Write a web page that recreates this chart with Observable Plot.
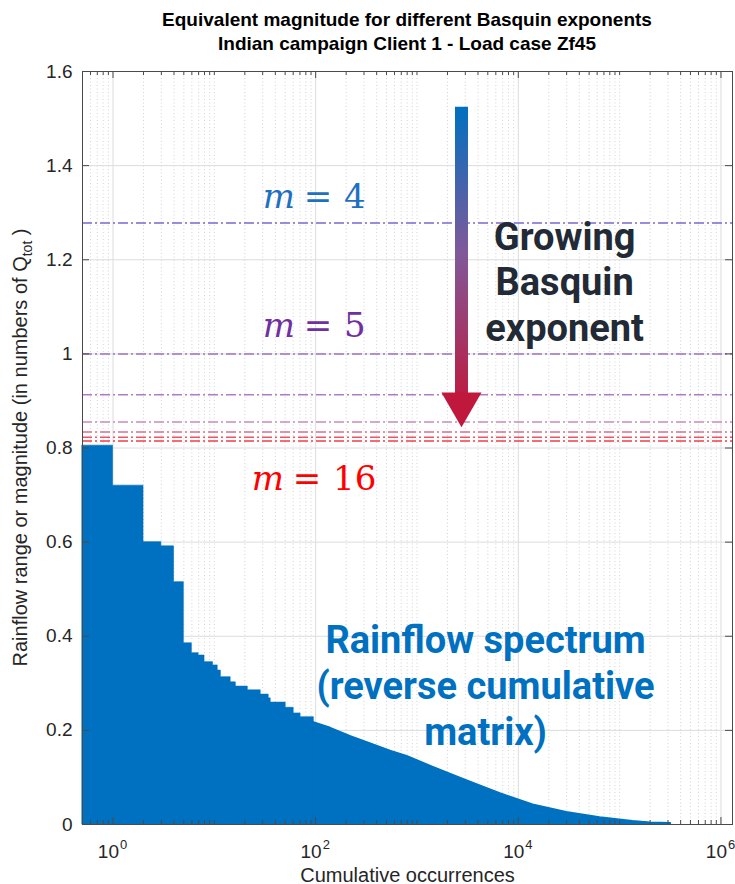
<!DOCTYPE html>
<html><head><meta charset="utf-8">
<script src="https://cdn.jsdelivr.net/npm/d3@7"></script>
<script src="https://cdn.jsdelivr.net/npm/@observablehq/plot@0.6"></script>
<style>
body{margin:0;background:#fff;font-family:"Liberation Sans",Arial,sans-serif;}
#title{width:735px;height:57px;box-sizing:border-box;padding:8px 3px 0 82px;text-align:center;font-weight:bold;font-size:19px;color:#000;line-height:24px;}
#chart svg{display:block;}
</style></head><body>
<div id="title"><div>Equivalent magnitude for different Basquin exponents</div><div>Indian campaign Client 1 - Load case Zf45</div></div>
<div id="chart"></div>
<script>
// Reverse cumulative rainflow spectrum (stair part): cumulative occurrences -> range
const stairOcc   = [0.5, 1, 2, 3, 4, 5, 6, 7, 8, 9.7, 10.8, 11.6, 14.5, 16.3, 21.4, 28.7, 34.4, 36, 50.6, 60.7, 71, 96];
const stairRange = [0.805, 0.72, 0.600, 0.591, 0.515, 0.385, 0.364, 0.359, 0.345, 0.338, 0.327, 0.313, 0.302, 0.293, 0.285, 0.276, 0.268, 0.259, 0.248, 0.236, 0.228, 0.217];
// Smooth tail of the spectrum
const tailOcc   = [96, 141, 223, 350, 556, 800, 1450, 3140, 6650, 14000, 30000, 64000, 135000, 200000, 320000];
const tailRange = [0.217, 0.205, 0.187, 0.172, 0.156, 0.145, 0.122, 0.093, 0.066, 0.042, 0.026, 0.015, 0.007, 0.004, 0.003];
// Equivalent magnitudes for Basquin exponents
const basquinM   = [4, 5, 6, 8, 10, 12, 16];
const equivMag   = [1.278, 1.0, 0.913, 0.855, 0.834, 0.823, 0.815];
const lineColors = ["#7a68d0", "#9a72c8", "#b07cc4", "#c98cbc", "#d8708c", "#e85468", "#f23c44"];
// Axis ticks
const yTicks = [0, 0.2, 0.4, 0.6, 0.8, 1, 1.2, 1.4, 1.6];
const yTickLabels = ["0", "0.2", "0.4", "0.6", "0.8", "1", "1.2", "1.4", "1.6"];
const xTicks = [1, 1e2, 1e4, 1e6];
const xTickExp = ["0", "2", "4", "6"];
// Annotations
const mLabels = [
  {x: 105.6, y: 1.311, m: "4", color: "#1f70c0"},
  {x: 105.6, y: 1.035, m: "5", color: "#7030a0"},
  {x: 82.2,  y: 0.710, m: "16", color: "#ff0000"}
];
const arrowSpec = {x: 2750, top: 1.524, base: 0.905, head: 0.8935};
const growingText = {x: 28650, y: 1.028, text: "Growing\nBasquin\nexponent"};
const rainflowText = {x: 4750, y: 0.168, text: "Rainflow spectrum\n(reverse cumulative\nmatrix)"};

const stairs = stairOcc.map((x, i) => ({x, y: stairRange[i]}));
const tail = tailOcc.map((x, i) => ({x, y: tailRange[i]}));
const basquin = basquinM.map((m, i) => ({m, mag: equivMag[i], color: lineColors[i]}));
const xMinor = d3.range(-1, 6).flatMap(k => d3.range(1, 10).map(d => d * 10 ** k))
  .filter(v => v > 0.5 && v < 1.3e6 && !xTicks.includes(v));

const W = 735, H = 827, mt = 14, mb = 60, ml = 82, mr = 3;
const ph = H - mt - mb, pw = W - ml - mr;
const axisColor = "#4a4a4a", txtColor = "#262626", blue = "#0070c0";

const plot = Plot.plot({
  width: W, height: H, marginTop: mt, marginBottom: mb, marginLeft: ml, marginRight: mr,
  style: {fontFamily: "Liberation Sans, Arial, sans-serif", background: "#fff", overflow: "visible", color: txtColor},
  x: {type: "log", domain: [0.5, 1.3e6], axis: null},
  y: {domain: [0, 1.6], axis: null},
  marks: [
    Plot.ruleX(xMinor, {stroke: "#c8c8c8", strokeDasharray: "1,2.5", strokeWidth: 0.8}),
    Plot.ruleX(xTicks, {stroke: "#dcdcdc", strokeWidth: 1}),
    Plot.ruleY(yTicks, {stroke: "#dcdcdc", strokeWidth: 1}),
    Plot.areaY(stairs, {x: "x", y: "y", curve: "step-after", fill: blue, stroke: blue, strokeWidth: 0.6}),
    Plot.areaY(tail, {x: "x", y: "y", fill: blue, stroke: blue, strokeWidth: 1.4, strokeLinejoin: "round"}),
    Plot.ruleY(basquin, {y: "mag", stroke: "color", strokeWidth: 1.5, strokeDasharray: "10,3,2,3"}),
    // arrow
    Plot.ruleX([arrowSpec], {x: "x", y1: "top", y2: "base", stroke: "url(#arrowGrad)", strokeWidth: 13}),
    Plot.dot([arrowSpec], {x: "x", y: "head", symbol: "triangle", rotate: 180, r: 14.9, fill: "#c0173c", stroke: null}),
    // big annotations
    Plot.text([growingText], {x: "x", y: "y", text: "text", lineAnchor: "bottom", lineHeight: 1.2,
      fontFamily: "Roboto", fontWeight: "bold", fontSize: 38, fill: "#222a35"}),
    Plot.text([rainflowText], {x: "x", y: "y", text: "text", lineAnchor: "bottom", lineHeight: 1.21,
      fontFamily: "Roboto", fontWeight: "bold", fontSize: 38, fill: blue}),
    // m = ... labels
    Plot.text(mLabels, {x: "x", y: "y", text: () => "m", textAnchor: "end", dx: -23, lineAnchor: "bottom",
      fontFamily: "DejaVu Serif", fontStyle: "italic", fontSize: 34, fill: "color"}),
    Plot.text(mLabels, {x: "x", y: "y", text: () => "=", textAnchor: "middle", lineAnchor: "bottom",
      fontFamily: "DejaVu Serif", fontSize: 34, fill: "color"}),
    Plot.text(mLabels, {x: "x", y: "y", text: "m", textAnchor: "start", dx: 26, lineAnchor: "bottom",
      fontFamily: "DejaVu Serif", fontSize: 34, fill: "color"}),
    // frame and inward ticks
    Plot.frame({stroke: axisColor, strokeWidth: 1}),
    Plot.tickX(xTicks, {x: d => d, insetTop: ph - 7, stroke: axisColor}),
    Plot.tickX(xMinor, {x: d => d, insetTop: ph - 4, stroke: axisColor}),
    Plot.tickX(xTicks, {x: d => d, insetBottom: ph - 7, stroke: axisColor}),
    Plot.tickX(xMinor, {x: d => d, insetBottom: ph - 4, stroke: axisColor}),
    Plot.tickY(yTicks, {y: d => d, insetRight: pw - 7, stroke: axisColor}),
    Plot.tickY(yTicks, {y: d => d, insetLeft: pw - 7, stroke: axisColor}),
    // tick labels
    Plot.axisY(yTicks, {tickSize: 0, tickPadding: 10, fontSize: 19, label: null,
      tickFormat: d => yTickLabels[yTicks.indexOf(d)]}),
    Plot.text(xTicks, {x: d => d, frameAnchor: "bottom", text: () => "10", textAnchor: "end", dx: 6, dy: 33,
      lineAnchor: "bottom", fontSize: 19, fill: txtColor}),
    Plot.text(xTicks, {x: d => d, frameAnchor: "bottom", text: (d, i) => xTickExp[i], textAnchor: "start", dx: 7, dy: 24,
      lineAnchor: "bottom", fontSize: 13, fill: txtColor}),
    Plot.text(["Cumulative occurrences"], {frameAnchor: "bottom", text: d => d, dy: 57, lineAnchor: "bottom",
      fontSize: 20, fill: txtColor})
  ]
});

const svg = d3.select(plot);
const ys = plot.scale("y");
const grad = svg.insert("defs", ":first-child").append("linearGradient")
  .attr("id", "arrowGrad").attr("gradientUnits", "userSpaceOnUse")
  .attr("x1", 0).attr("x2", 0)
  .attr("y1", ys.apply(arrowSpec.top)).attr("y2", ys.apply(arrowSpec.base));
grad.append("stop").attr("offset", 0).attr("stop-color", "#0070c0");
grad.append("stop").attr("offset", 0.5).attr("stop-color", "#80599a");
grad.append("stop").attr("offset", 1).attr("stop-color", "#bc1c42");

const ylab = svg.append("text")
  .attr("transform", `translate(27,${mt + ph / 2}) rotate(-90)`)
  .attr("text-anchor", "middle").attr("font-size", 20).attr("fill", txtColor);
ylab.append("tspan").text("Rainflow range or magnitude (in numbers of Q");
ylab.append("tspan").attr("font-size", 14).attr("dy", 5).text("tot");
ylab.append("tspan").attr("dy", -5).text(" )");

document.getElementById("chart").appendChild(plot);
</script>
</body></html>
